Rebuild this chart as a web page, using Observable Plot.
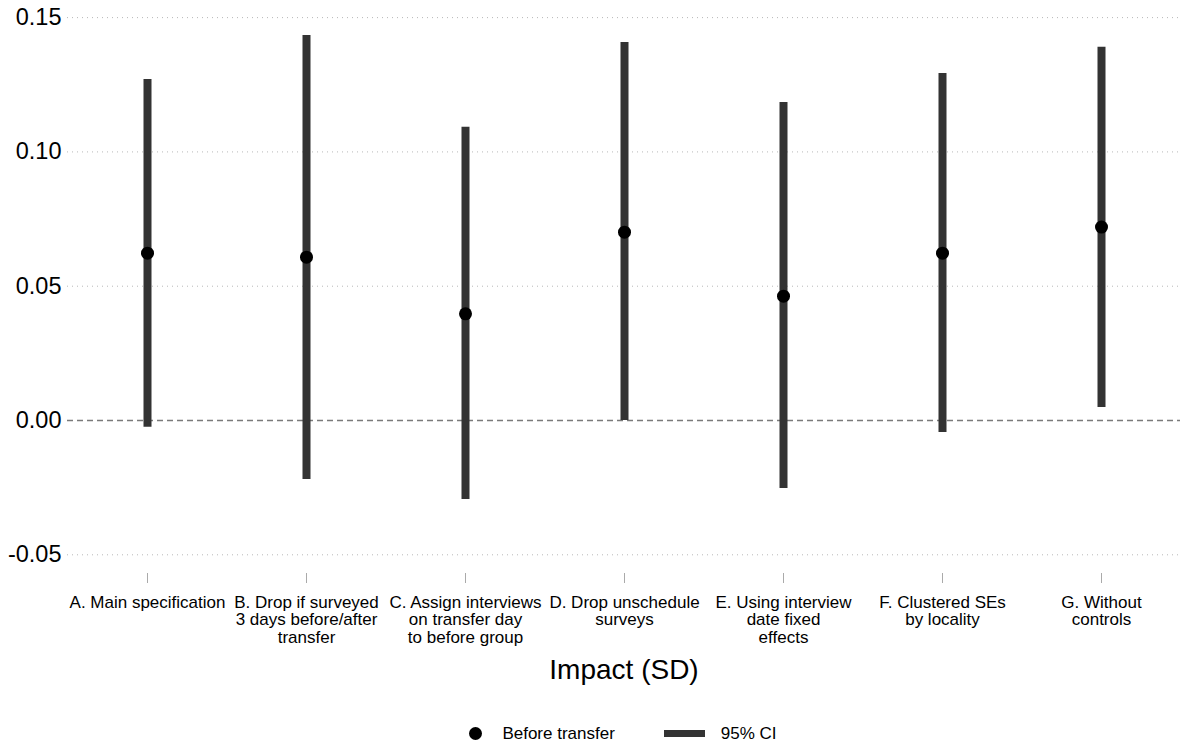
<!DOCTYPE html>
<html>
<head>
<meta charset="utf-8">
<script src="https://cdn.jsdelivr.net/npm/d3@7"></script>
<script src="https://cdn.jsdelivr.net/npm/@observablehq/plot@0.6"></script>
<style>
  html, body { margin: 0; padding: 0; background: #fff; }
  body { width: 1180px; height: 746px; overflow: hidden; font-family: "Liberation Sans", Arial, sans-serif; }
  #legend { height: 46px; box-sizing: border-box; padding-top: 21px; padding-left: 66px; display: flex; justify-content: center; align-items: center; font-size: 17px; color: #000; }
  .sw-dot { width: 13px; height: 13px; border-radius: 50%; background: #000; margin-right: 20px; }
  .sw-bar { width: 41px; height: 7px; background: #333333; margin-left: 49px; margin-right: 16px; }
</style>
</head>
<body>
<div id="chart"></div>
<div id="legend">
  <div class="sw-dot"></div><span>Before transfer</span>
  <div class="sw-bar"></div><span>95% CI</span>
</div>
<script>
const specs = ["A", "B", "C", "D", "E", "F", "G"];
const specLabels = [
  "A. Main specification",
  "B. Drop if surveyed\n3 days before/after\ntransfer",
  "C. Assign interviews\non transfer day\nto before group",
  "D. Drop unschedule\nsurveys",
  "E. Using interview\ndate fixed\neffects",
  "F. Clustered SEs\nby locality",
  "G. Without\ncontrols"
];
const estimates = [0.0623, 0.0608, 0.0397, 0.0701, 0.0463, 0.0623, 0.0720];
const ciLow     = [-0.0025, -0.0220, -0.0294, 0.0000, -0.0253, -0.0045, 0.0048];
const ciHigh    = [0.1270, 0.1433, 0.1092, 0.1407, 0.1184, 0.1292, 0.1390];
const yTicks = [-0.05, 0, 0.05, 0.10, 0.15];
const xTitle = "Impact (SD)";

const data = specs.map((s, i) => ({spec: s, est: estimates[i], lo: ciLow[i], hi: ciHigh[i]}));
const labelOf = new Map(specs.map((s, i) => [s, specLabels[i]]));

const chart = Plot.plot({
  width: 1180,
  height: 700,
  marginLeft: 67,
  marginRight: 0,
  marginTop: 4,
  marginBottom: 127,
  style: {fontFamily: "'Liberation Sans', Arial, sans-serif", color: "#000", background: "#fff"},
  x: {type: "point", domain: specs, padding: 0.5},
  y: {domain: [-0.05696, 0.15488]},
  marks: [
    Plot.gridY(yTicks.filter(d => d !== 0), {stroke: "#b8b8b8", strokeOpacity: 1, strokeDasharray: "1,4", strokeWidth: 1}),
    Plot.ruleY([0], {stroke: "#7a7a7a", strokeWidth: 1.5, strokeDasharray: "6,4"}),
    Plot.axisY({ticks: yTicks, tickFormat: d => d.toFixed(2), tickSize: 0, tickPadding: 6, fontSize: 23.5, label: null}),
    Plot.axisX({tickSize: 10, tickPadding: 12, fontSize: 17, lineHeight: 1.03, stroke: "#aaaaaa", tickFormat: d => labelOf.get(d), label: null}),
    Plot.ruleX(data, {x: "spec", y1: "lo", y2: "hi", stroke: "#333333", strokeWidth: 8}),
    Plot.dot(data, {x: "spec", y: "est", r: 6.5, fill: "#000", stroke: null}),
    Plot.text([xTitle], {text: d => d, frameAnchor: "bottom", dy: 105, lineAnchor: "bottom", fontSize: 28, fill: "#000"})
  ]
});
document.getElementById("chart").appendChild(chart);
</script>
</body>
</html>
